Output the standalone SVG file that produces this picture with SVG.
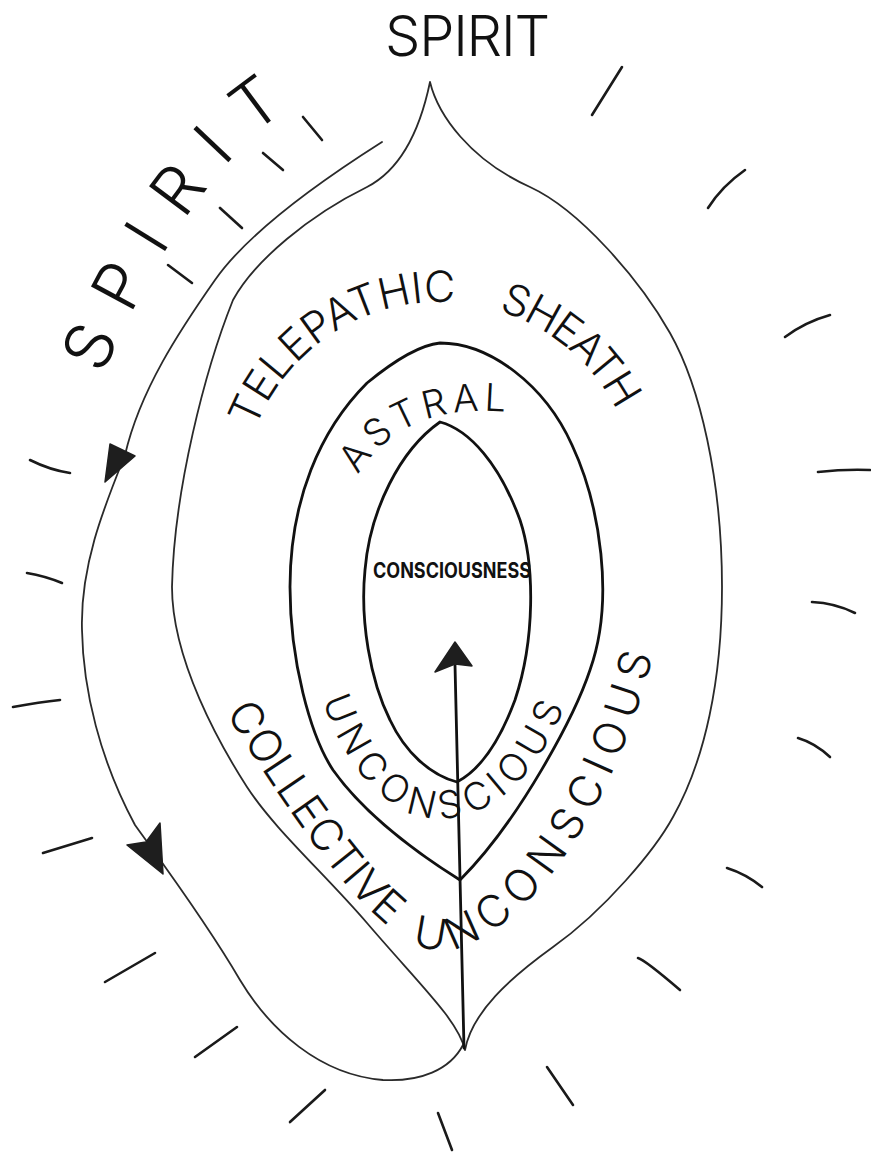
<svg xmlns="http://www.w3.org/2000/svg" width="871" height="1157" viewBox="0 0 871 1157">
<style>
.hand{font-family:Inter,"Open Sans","DejaVu Sans",sans-serif;font-weight:300;fill:#111}
.bold{font-weight:700}
.thin{fill:none;stroke:#2a2a2a;stroke-width:1.8;stroke-linecap:round;stroke-linejoin:round}
.thick{fill:none;stroke:#111;stroke-width:2.8;stroke-linecap:round;stroke-linejoin:round}
.tick{fill:none;stroke:#1a1a1a;stroke-width:2.6;stroke-linecap:round}
.head{fill:#1e1e1e;stroke:#1e1e1e;stroke-width:1.5;stroke-linejoin:round}
</style>
<defs>
<path id="pSpiritL" d="M 100,381 Q 196,159 305,98"/>
<path id="pTele" d="M 255.1,429 A 198 198 0 0 1 626.1,432.3"/>
<path id="pAstral" d="M 350,490 Q 395,395 525,414"/>
<path id="pUnc" d="M 318,685 C 345,780 400,825 450,818 C 500,812 540,770 565,705"/>
<path id="pColl" d="M 220,705 C 270,780 370,950 440,950 C 510,950 625,820 665,600"/>
</defs>
<rect width="871" height="1157" fill="#fff"/>

<g id="rays">
<path class="tick" d="M592,115 L622,67"/>
<path class="tick" d="M708,208 Q722,186 745,170"/>
<path class="tick" d="M785,337 Q805,322 830,315"/>
<path class="tick" d="M818,472 Q845,469 870,470"/>
<path class="tick" d="M812,602 Q835,603 855,613"/>
<path class="tick" d="M798,738 Q815,743 830,757"/>
<path class="tick" d="M727,868 Q746,874 762,887"/>
<path class="tick" d="M638,958 Q645,960 680,990"/>
<path class="tick" d="M547,1067 L573,1105"/>
<path class="tick" d="M438,1113 L452,1150"/>
<path class="tick" d="M290,1122 L325,1090"/>
<path class="tick" d="M195,1057 L237,1027"/>
<path class="tick" d="M105,982 L155,953"/>
<path class="tick" d="M43,853 L92,838"/>
<path class="tick" d="M13,707 Q40,702 60,700"/>
<path class="tick" d="M27,573 Q45,576 62,583"/>
<path class="tick" d="M30,460 Q50,470 70,473"/>
<path class="tick" d="M168,265 L192,283"/>
<path class="tick" d="M220,208 L242,228"/>
<path class="tick" d="M263,153 L283,170"/>
<path class="tick" d="M303,117 L322,140"/>
</g>

<g id="telepathic-sheath">
<path class="thin" d="M430,82 C438,115 470,160 530,187 C580,210 640,280 670,333 C700,386 722,480 722,587 C722,680 705,760 673,817 C655,850 605,910 553,947 C510,978 472,1012 465,1050 C458,1020 420,985 367,923 C325,874 275,830 247,787 C220,745 172,660 172,587 C174,490 205,370 233,300 C255,260 310,215 367,187 C400,170 420,130 430,82 Z"/>
</g>

<g id="astral">
<path class="thick" d="M440,343 C490,343 545,385 572,445 C600,505 615,600 590,670 C575,715 520,820 460,880 C420,855 365,815 333,770 C310,735 290,660 290,587 C290,500 320,430 367,383 C395,360 420,345 440,343 Z"/>
</g>

<g id="consciousness">
<path class="thick" d="M440,422 C470,430 500,465 520,520 C535,565 535,640 515,700 C500,740 480,770 457,782 C430,775 405,752 390,720 C370,680 360,620 365,570 C370,510 400,450 440,422 Z"/>
</g>

<g id="connectors">
<path class="thin" d="M382,142 C330,175 250,230 215,280 C180,330 140,390 125,455 C105,505 80,565 82,630 C83,690 100,760 135,825 C160,860 205,920 240,980 C270,1030 320,1075 383,1080 C420,1082 450,1070 463,1045"/>
<path class="head" d="M110,444 L135,456 L105,482 Z"/>
<path class="head" d="M163,874 L127,845 L146,842 L160,823 Z"/>
<path class="thick" d="M464,1048 L455,665"/>
<path class="head" d="M455,642 L472,666 L455,664 L435,672 Z"/>
</g>

<g id="labels">
<text class="hand" x="385" y="56" font-size="56" textLength="165" lengthAdjust="spacing">SPIRIT</text>
<text class="hand" font-size="66" letter-spacing="25"><textPath href="#pSpiritL" startOffset="6">SPIRIT</textPath></text>
<text class="hand" font-size="43" letter-spacing="0"><textPath href="#pTele" startOffset="0">TELEPATHIC<tspan dx="44" letter-spacing="-2">SHEATH</tspan></textPath></text>
<text class="hand" font-size="38" letter-spacing="5"><textPath href="#pAstral" startOffset="17">ASTRAL</textPath></text>
<text class="hand bold" x="373" y="578" font-size="21" textLength="158" lengthAdjust="spacingAndGlyphs">CONSCIOUSNESS</text>
<text class="hand" font-size="38" letter-spacing="7"><textPath href="#pUnc" startOffset="16">UNCONSCIOUS</textPath></text>
<text class="hand" font-size="44" letter-spacing="0"><textPath href="#pColl" startOffset="10">COLLECTIVE<tspan dx="30" letter-spacing="8">UNCONSCIOUS</tspan></textPath></text>
</g>
</svg>
